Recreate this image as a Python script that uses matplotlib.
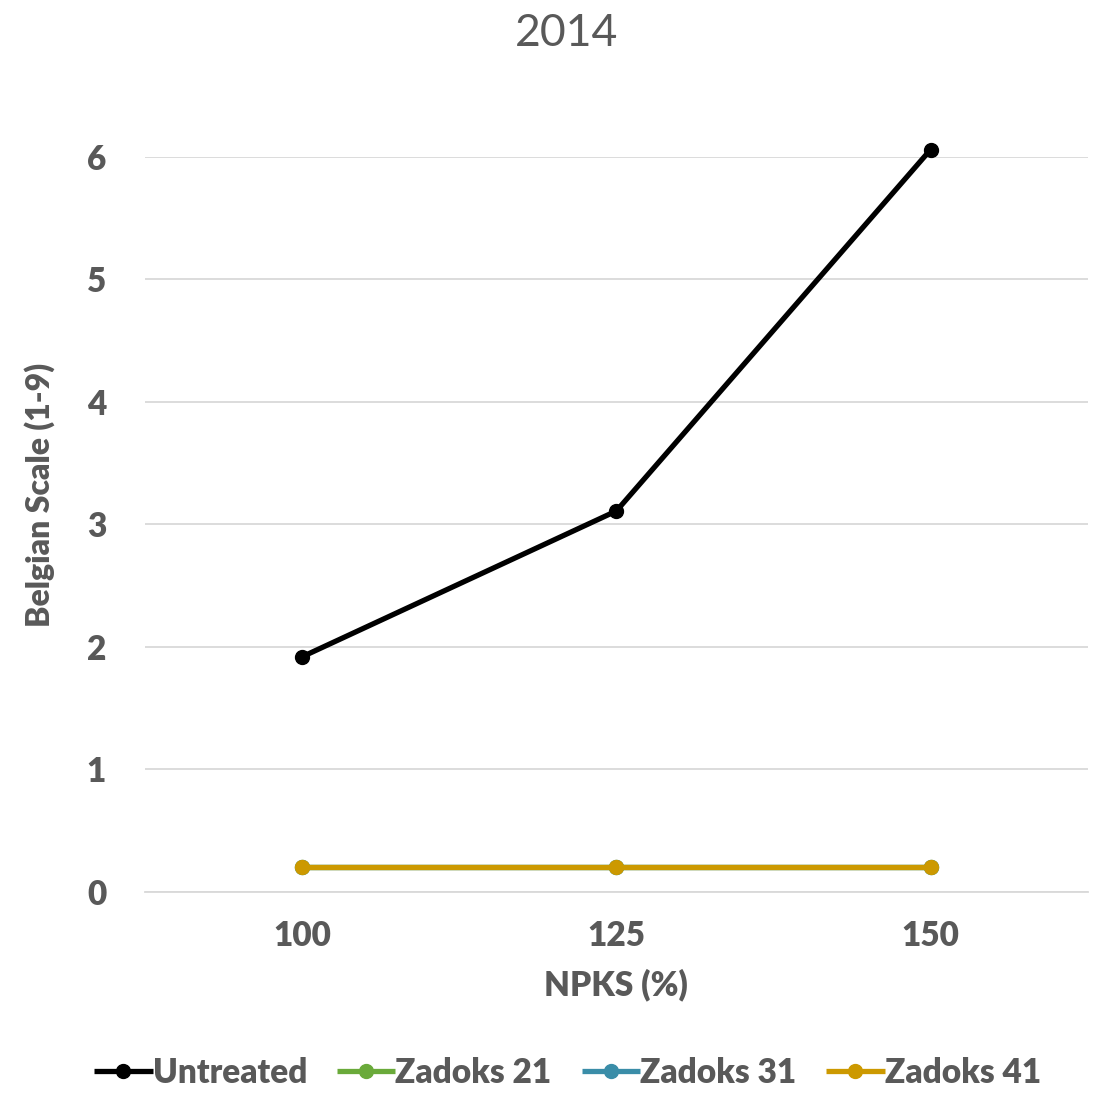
import matplotlib
matplotlib.use("Agg")
import matplotlib.pyplot as plt

# values
npks = ["100", "125", "150"]
untreated = [1.92, 3.11, 6.06]
zadoks21 = [0.2, 0.2, 0.2]
zadoks31 = [0.2, 0.2, 0.2]
zadoks41 = [0.2, 0.2, 0.2]

series = [
    ("Untreated", untreated, "#000000"),
    ("Zadoks 21", zadoks21, "#6AAA3A"),
    ("Zadoks 31", zadoks31, "#3A8DA8"),
    ("Zadoks 41", zadoks41, "#CC9900"),
]

plt.rcParams['font.family'] = ['Lato', 'DejaVu Sans']
grey = "#595959"

fig = plt.figure(figsize=(11.02, 10.97), dpi=100)
ax = fig.add_axes([0.1316, 0.1869, 0.8554, 0.67])

x = range(len(npks))
for name, vals, col in series:
    ax.plot(x, vals, color=col, lw=3.8, marker="o", ms=10, label=name,
            clip_on=False, solid_capstyle="butt")

ax.set_xlim(-0.5, 2.5)
ax.set_ylim(0, 6)
ax.set_xticks(list(x))
ax.set_xticklabels(npks)
ax.set_yticks(range(0, 7))
ax.tick_params(length=0, labelsize=24, labelcolor=grey)
ax.tick_params(axis="x", pad=20)
ax.tick_params(axis="y", pad=28)
for lab in ax.get_xticklabels() + ax.get_yticklabels():
    lab.set_fontweight("heavy")

ax.grid(axis="y", color="#D9D9D9", lw=1.3)
ax.set_axisbelow(True)
for s in ["top", "right", "left"]:
    ax.spines[s].set_visible(False)
ax.spines["bottom"].set_color("#D9D9D9")
ax.spines["bottom"].set_linewidth(1.3)

ax.set_xlabel("NPKS (%)", fontsize=24, color=grey, fontweight="heavy", labelpad=12)
ax.set_ylabel("Belgian Scale (1-9)", fontsize=23, color=grey, fontweight="heavy")
ax.yaxis.set_label_coords(-0.095, 0.54)
fig.suptitle("2014", fontsize=32, color=grey, x=0.514, y=0.988)

leg = fig.legend(loc="lower center", ncol=4, frameon=False, fontsize=24,
                 bbox_to_anchor=(0.515, -0.02), handlelength=1.75,
                 handletextpad=0.0, columnspacing=0.9)
for t in leg.get_texts():
    t.set_color(grey)
    t.set_fontweight("heavy")

fig.savefig("out.png", dpi=100)
